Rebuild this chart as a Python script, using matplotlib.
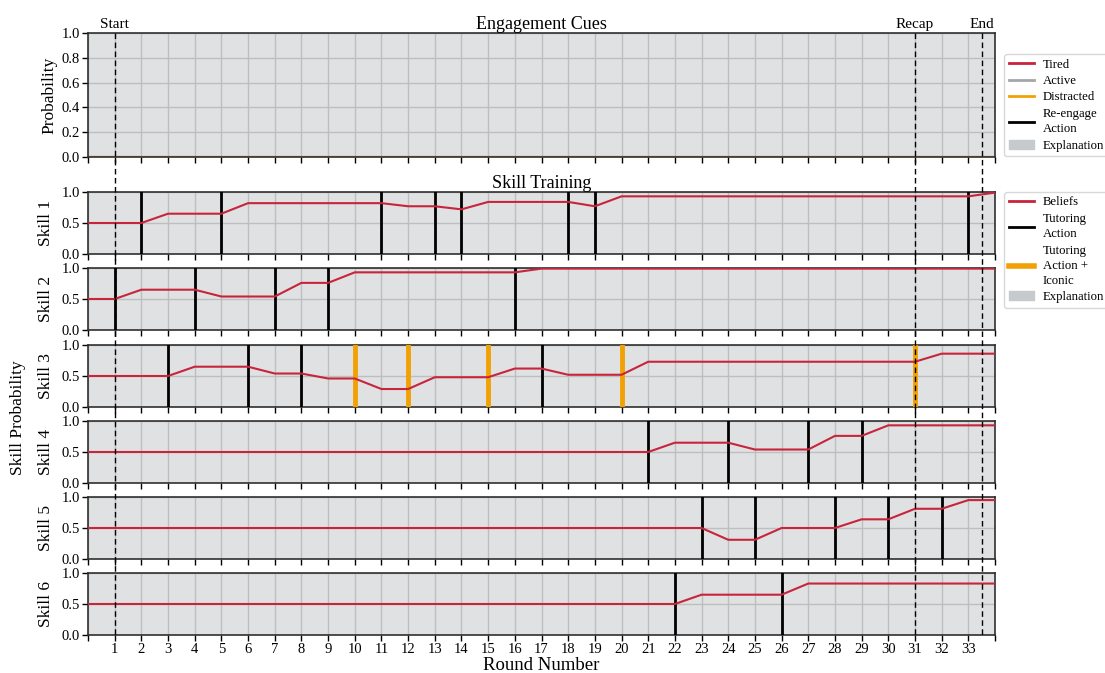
import numpy as np
import matplotlib
matplotlib.use('Agg')
import matplotlib.pyplot as plt
import matplotlib.transforms as mtransforms
from matplotlib.lines import Line2D
from matplotlib.patches import Patch

plt.rcParams['font.family'] = ['Liberation Serif', 'DejaVu Serif']

# rounds 0..34
rounds = np.arange(35)

# engagement cue probabilities per round
tired = [0.0, 0.0, 0.0, 0.0, 0.0, 0.0, 0.0, 0.0, 0.0, 0.0, 0.0, 0.0,
         0.0, 0.0, 0.0, 0.0, 0.0, 0.0, 0.0, 0.0, 0.0, 0.0, 0.0, 0.0,
         0.0, 0.0, 0.0, 0.0, 0.0, 0.0, 0.0, 0.0, 0.0, 0.0, 0.0]
active = [0.0, 0.0, 0.0, 0.0, 0.0, 0.0, 0.0, 0.0, 0.0, 0.0, 0.0, 0.0,
          0.0, 0.0, 0.0, 0.0, 0.0, 0.0, 0.0, 0.0, 0.0, 0.0, 0.0, 0.0,
          0.0, 0.0, 0.0, 0.0, 0.0, 0.0, 0.0, 0.0, 0.0, 0.0, 0.0]
distracted = [0.0, 0.0, 0.0, 0.0, 0.0, 0.0, 0.0, 0.0, 0.0, 0.0, 0.0, 0.0,
              0.0, 0.0, 0.0, 0.0, 0.0, 0.0, 0.0, 0.0, 0.0, 0.0, 0.0, 0.0,
              0.0, 0.0, 0.0, 0.0, 0.0, 0.0, 0.0, 0.0, 0.0, 0.0, 0.0]

# skill beliefs per round
skill1 = [0.5, 0.5, 0.5, 0.65, 0.65, 0.65, 0.82, 0.82, 0.82, 0.82, 0.82, 0.82,
          0.77, 0.77, 0.72, 0.84, 0.84, 0.84, 0.84, 0.77, 0.93, 0.93, 0.93, 0.93,
          0.93, 0.93, 0.93, 0.93, 0.93, 0.93, 0.93, 0.93, 0.93, 0.93, 0.99]
skill2 = [0.5, 0.5, 0.65, 0.65, 0.65, 0.54, 0.54, 0.54, 0.76, 0.76, 0.93, 0.93,
          0.93, 0.93, 0.93, 0.93, 0.93, 0.99, 0.99, 0.99, 0.99, 0.99, 0.99, 0.99,
          0.99, 0.99, 0.99, 0.99, 0.99, 0.99, 0.99, 0.99, 0.99, 0.99, 0.99]
skill3 = [0.5, 0.5, 0.5, 0.5, 0.65, 0.65, 0.65, 0.54, 0.54, 0.46, 0.46, 0.29,
          0.29, 0.48, 0.48, 0.48, 0.62, 0.62, 0.52, 0.52, 0.52, 0.73, 0.73, 0.73,
          0.73, 0.73, 0.73, 0.73, 0.73, 0.73, 0.73, 0.73, 0.86, 0.86, 0.86]
skill4 = [0.5, 0.5, 0.5, 0.5, 0.5, 0.5, 0.5, 0.5, 0.5, 0.5, 0.5, 0.5,
          0.5, 0.5, 0.5, 0.5, 0.5, 0.5, 0.5, 0.5, 0.5, 0.5, 0.65, 0.65,
          0.65, 0.54, 0.54, 0.54, 0.76, 0.76, 0.93, 0.93, 0.93, 0.93, 0.93]
skill5 = [0.5, 0.5, 0.5, 0.5, 0.5, 0.5, 0.5, 0.5, 0.5, 0.5, 0.5, 0.5,
          0.5, 0.5, 0.5, 0.5, 0.5, 0.5, 0.5, 0.5, 0.5, 0.5, 0.5, 0.5,
          0.31, 0.31, 0.5, 0.5, 0.5, 0.64, 0.64, 0.81, 0.81, 0.95, 0.95]
skill6 = [0.5, 0.5, 0.5, 0.5, 0.5, 0.5, 0.5, 0.5, 0.5, 0.5, 0.5, 0.5,
          0.5, 0.5, 0.5, 0.5, 0.5, 0.5, 0.5, 0.5, 0.5, 0.5, 0.5, 0.65,
          0.65, 0.65, 0.65, 0.83, 0.83, 0.83, 0.83, 0.83, 0.83, 0.83, 0.83]
skills = [skill1, skill2, skill3, skill4, skill5, skill6]
skill_names = ['Skill 1', 'Skill 2', 'Skill 3', 'Skill 4', 'Skill 5', 'Skill 6']

# rounds where a tutoring action / action + iconic explanation targeted each skill
tutoring = [[2, 5, 11, 13, 14, 18, 19, 33],
            [1, 4, 7, 9, 16],
            [3, 6, 8, 17],
            [21, 24, 27, 29],
            [23, 25, 28, 30, 32],
            [22, 26]]
iconic = [[], [], [10, 12, 15, 20, 31], [], [], []]

# session markers
marker_rounds = [1, 31, 33.5]
marker_names = ['Start', 'Recap', 'End']

bg = '#DFE1E3'
grid_c = '#BCBEC0'
red = '#C8243C'
orange = '#F2A104'
gray = '#A3A7AA'
expl_c = '#C6CACC'

W, H = 1105, 673
fig = plt.figure(figsize=(W / 100, H / 100), dpi=100)


def add_ax(top, bottom):
    return fig.add_axes([88 / W, 1 - bottom / H, (995 - 88) / W, (bottom - top) / H])


def style(ax, yticks, last=False):
    ax.set_facecolor(bg)
    ax.set_xlim(0, 34)
    ax.set_ylim(0, 1)
    ax.set_xticks(range(35))
    ax.set_yticks(yticks)
    ax.grid(color=grid_c, lw=1)
    ax.set_axisbelow(True)
    for s in ax.spines.values():
        s.set_color('#303030')
        s.set_linewidth(1.2)
    ax.tick_params(labelsize=10.5, length=4, width=1, pad=2)
    if last:
        ax.set_xticklabels([''] + [str(i) for i in range(1, 34)] + [''])
    else:
        ax.set_xticklabels([])


legend_kw = dict(loc='upper left', fontsize=9.2, handlelength=2.0,
                 labelspacing=0.35, borderaxespad=0, handletextpad=0.7,
                 borderpad=0.35, framealpha=1, edgecolor='#d8d8d8')

# engagement cues panel
ax0 = add_ax(33, 157)
style(ax0, [0.0, 0.2, 0.4, 0.6, 0.8, 1.0])
ax0.set_yticklabels(['0.0', '0.2', '0.4', '0.6', '0.8', '1.0'])
ax0.plot(rounds, tired, color=red, lw=1.5)
ax0.plot(rounds, active, color=gray, lw=1.5)
ax0.plot(rounds, distracted, color=orange, lw=1.5)
ax0.set_ylabel('Probability', fontsize=12.5, labelpad=3)
ax0.set_title('Engagement Cues', fontsize=13, pad=2)
for x, name in zip(marker_rounds, marker_names):
    ax0.text(x, 1.02, name, transform=ax0.get_xaxis_transform(),
             ha='center', va='bottom', fontsize=11)

leg1 = [Line2D([], [], color=red, lw=2, label='Tired'),
        Line2D([], [], color=gray, lw=2, label='Active'),
        Line2D([], [], color=orange, lw=2, label='Distracted'),
        Line2D([], [], color='black', lw=2, label='Re-engage\nAction'),
        Patch(color=expl_c, label='Explanation')]

# skill panels
tops = [192, 268, 345, 421, 497, 573]
axes = []
for i, (top, vals) in enumerate(zip(tops, skills)):
    ax = add_ax(top, top + 62)
    style(ax, [0.0, 0.5, 1.0], last=(i == 5))
    ax.set_yticklabels(['0.0', '0.5', '1.0'])
    for r in tutoring[i]:
        ax.axvline(r, color='black', lw=2, zorder=3)
    for r in iconic[i]:
        ax.axvline(r, color=orange, lw=3.5, zorder=3)
    ax.plot(rounds, vals, color=red, lw=1.5, zorder=4)
    ax.set_ylabel(skill_names[i], fontsize=12.5, labelpad=5)
    axes.append(ax)

axes[0].set_title('Skill Training', fontsize=13, pad=1)

leg2 = [Line2D([], [], color=red, lw=2, label='Beliefs'),
        Line2D([], [], color='black', lw=2, label='Tutoring\nAction'),
        Line2D([], [], color=orange, lw=4, label='Tutoring\nAction +\nIconic'),
        Patch(color=expl_c, label='Explanation')]

for ax, handles, anchor in [(ax0, leg1, (1.01, 0.83)), (axes[0], leg2, (1.01, 1.0))]:
    leg = ax.legend(handles=handles, bbox_to_anchor=anchor, **legend_kw)
    for t in leg.get_texts():
        t.set_linespacing(1.35)

fig.text(18 / W, 1 - 418 / H, 'Skill Probability', rotation=90,
         ha='center', va='center', fontsize=12.5)
fig.text(541 / W, 1 - 665 / H, 'Round Number', ha='center', va='center',
         fontsize=13.5)

# dashed session markers running through every panel
trans = mtransforms.blended_transform_factory(ax0.transData, fig.transFigure)
for x in marker_rounds:
    fig.add_artist(Line2D([x, x], [1 - 33 / H, 1 - 635 / H], transform=trans,
                          color='black', lw=1, ls=(0, (4, 2.5)), zorder=5))

fig.savefig('out.png', dpi=100)
